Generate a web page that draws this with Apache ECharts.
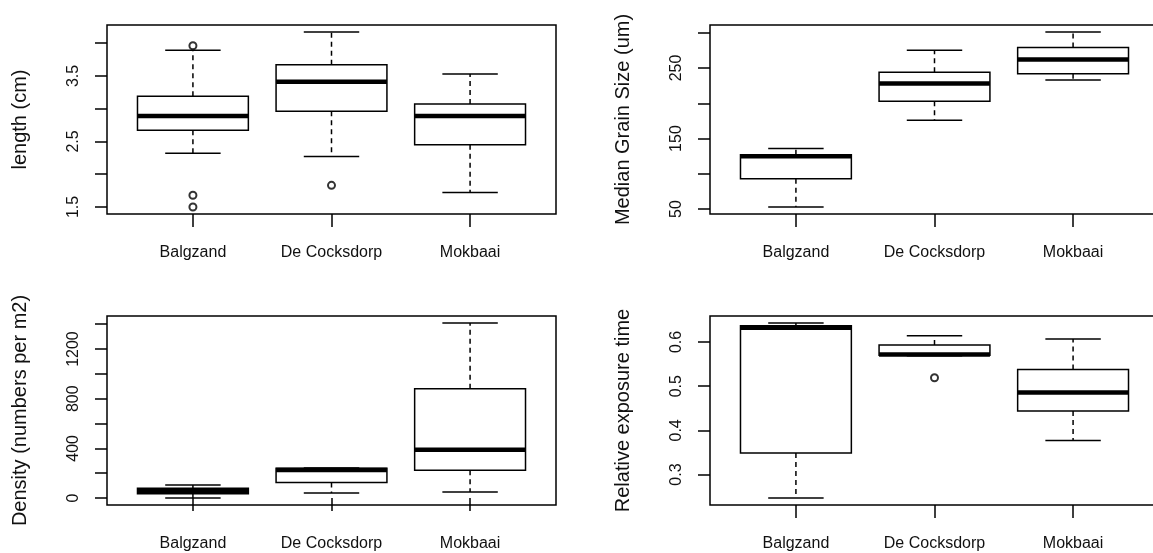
<!DOCTYPE html>
<html style="height: 100%">
<head>
    <meta charset="utf-8">
    <script src="https://cdn.jsdelivr.net/npm/echarts@6/dist/echarts.min.js"></script>
</head>
<body style="height: 100%; margin: 0; background: #fff">
    <div id="main" style="width: 1153px; height: 553px"></div>
    <script type="text/javascript">
        var sites = ['Balgzand', 'De Cocksdorp', 'Mokbaai'];

        // box stats per site: [min, Q1, median, Q3, max]
        var lengthStats = [
            [2.32, 2.67, 2.89, 3.19, 3.89],
            [2.27, 2.96, 3.41, 3.67, 4.17],
            [1.72, 2.45, 2.89, 3.07, 3.53]
        ];
        // outliers: [site position, value]
        var lengthOutliers = [[1, 1.50], [1, 1.68], [1, 3.96], [2, 1.83]];
        var lengthTicks = [1.5, 2, 2.5, 3, 3.5, 4];
        var lengthLabels = [1.5, 2.5, 3.5];

        var grainStats = [
            [53, 93, 125, 127, 136],
            [176, 203, 228, 244, 275],
            [233, 242, 262, 279, 301]
        ];
        var grainOutliers = [];
        var grainTicks = [50, 100, 150, 200, 250, 300];
        var grainLabels = [50, 150, 250];

        var densityStats = [
            [0, 34, 56, 78, 104],
            [40, 125, 225, 240, 242],
            [48, 224, 389, 880, 1410]
        ];
        var densityOutliers = [];
        var densityTicks = [0, 200, 400, 600, 800, 1000, 1200, 1400];
        var densityLabels = [0, 400, 800, 1200];

        var exposureStats = [
            [0.247, 0.349, 0.632, 0.637, 0.643],
            [0.569, 0.570, 0.572, 0.593, 0.614],
            [0.377, 0.444, 0.486, 0.538, 0.607]
        ];
        var exposureOutliers = [[2, 0.519]];
        var exposureTicks = [0.3, 0.4, 0.5, 0.6];
        var exposureLabels = [0.3, 0.4, 0.5, 0.6];

        var font = "'Liberation Sans', Arial, sans-serif";

        var panels = [
            {stats: lengthStats, out: lengthOutliers, ticks: lengthTicks, labels: lengthLabels, name: 'length (cm)', left: 107, top: 25},
            {stats: grainStats, out: grainOutliers, ticks: grainTicks, labels: grainLabels, name: 'Median Grain Size (um)', left: 710, top: 25},
            {stats: densityStats, out: densityOutliers, ticks: densityTicks, labels: densityLabels, name: 'Density (numbers per m2)', left: 107, top: 316},
            {stats: exposureStats, out: exposureOutliers, ticks: exposureTicks, labels: exposureLabels, name: 'Relative exposure time', left: 710, top: 316}
        ];

        function renderBox(params, api) {
            var x = api.value(0);
            var p = function (k) { return api.coord([x, api.value(k)]); };
            var lo = p(1), q1 = p(2), med = p(3), q3 = p(4), hi = p(5);
            var bw = api.size([0.8, 0])[0];
            var cx = lo[0];
            function line(x1, y1, x2, y2, extra) {
                return {
                    type: 'line',
                    shape: {x1: x1, y1: y1, x2: x2, y2: y2},
                    style: Object.assign({stroke: '#000', lineWidth: 1.5}, extra || {})
                };
            }
            return {
                type: 'group',
                children: [
                    line(cx, q3[1], cx, hi[1], {lineDash: [5, 4]}),
                    line(cx, q1[1], cx, lo[1], {lineDash: [5, 4]}),
                    line(cx - bw / 4, hi[1], cx + bw / 4, hi[1]),
                    line(cx - bw / 4, lo[1], cx + bw / 4, lo[1]),
                    {
                        type: 'rect',
                        shape: {x: cx - bw / 2, y: q3[1], width: bw, height: q1[1] - q3[1]},
                        style: {fill: '#fff', stroke: '#000', lineWidth: 1.5}
                    },
                    line(cx - bw / 2, med[1], cx + bw / 2, med[1], {lineWidth: 4.5})
                ]
            };
        }

        var option = {grid: [], xAxis: [], yAxis: [], series: [], animation: false};

        panels.forEach(function (pn, i) {
            // R style range: data range padded by 4% on each side
            var vals = [];
            pn.stats.forEach(function (s) { vals = vals.concat(s); });
            pn.out.forEach(function (o) { vals.push(o[1]); });
            var lo = Math.min.apply(null, vals), hi = Math.max.apply(null, vals);
            var pad = (hi - lo) * 0.04;

            option.grid.push({
                left: pn.left, top: pn.top, width: 449, height: 189,
                outerBoundsMode: 'none', containLabel: false,
                show: true, borderColor: '#000', borderWidth: 1.5
            });
            option.xAxis.push({
                type: 'value', gridIndex: i, min: 0.38, max: 3.62,
                axisLine: {show: false},
                splitLine: {show: false},
                axisTick: {show: true, customValues: [1, 2, 3], length: 13, lineStyle: {color: '#000', width: 1.5}},
                axisLabel: {
                    customValues: [1, 2, 3], margin: 31, fontSize: 16, fontFamily: font, color: '#111',
                    formatter: function (v) { return sites[Math.round(v) - 1]; }
                }
            });
            option.yAxis.push({
                type: 'value', gridIndex: i, min: lo - pad, max: hi + pad,
                axisLine: {show: false},
                splitLine: {show: false},
                axisTick: {show: true, customValues: pn.ticks, length: 12, lineStyle: {color: '#000', width: 1.5}},
                axisLabel: {
                    customValues: pn.labels, rotate: 90, margin: 25, fontSize: 16, fontFamily: font, color: '#111',
                    formatter: function (v) { return String(v); }
                },
                name: pn.name, nameLocation: 'middle', nameRotate: 90, nameGap: 77,
                nameTextStyle: {fontSize: 20, fontFamily: font, color: '#111'}
            });
            option.series.push({
                type: 'custom', xAxisIndex: i, yAxisIndex: i,
                renderItem: renderBox,
                encode: {x: 0, y: [1, 2, 3, 4, 5]},
                data: pn.stats.map(function (s, k) { return [k + 1].concat(s); })
            });
            option.series.push({
                type: 'scatter', xAxisIndex: i, yAxisIndex: i,
                symbol: 'emptyCircle', symbolSize: 7,
                itemStyle: {color: '#000', borderColor: '#000', borderWidth: 1.3},
                data: pn.out
            });
        });

        var myChart = echarts.init(document.getElementById('main'));
        myChart.setOption(option);
    </script>
</body>
</html>
